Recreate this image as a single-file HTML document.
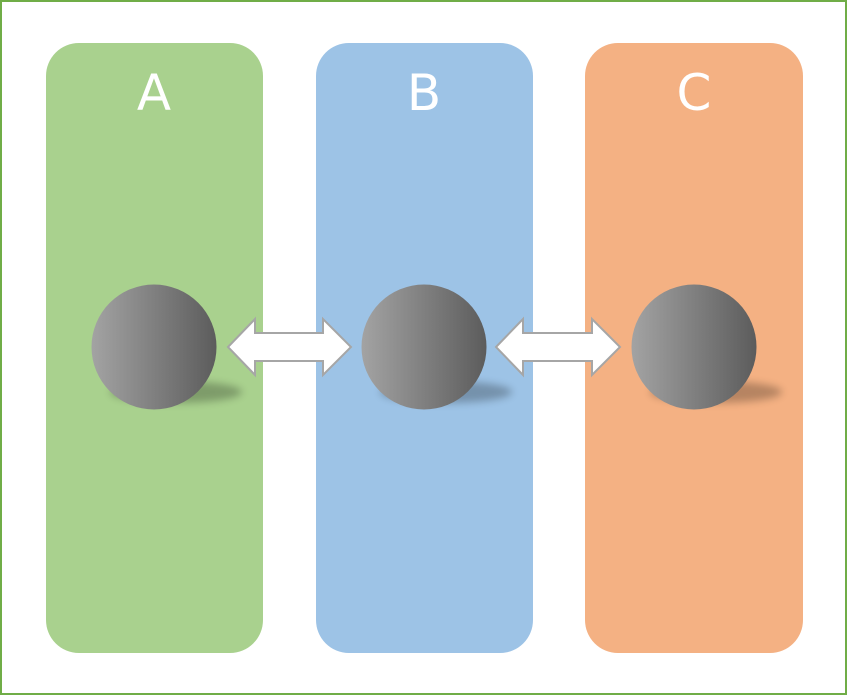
<!DOCTYPE html>
<html><head><style>
html,body{margin:0;padding:0;background:#fff;}
</style></head><body>
<svg width="847" height="695" viewBox="0 0 847 695" xmlns="http://www.w3.org/2000/svg">
<defs>
<linearGradient id="g" x1="0" x2="1" y1="0" y2="0">
<stop offset="0" stop-color="#a3a3a3"/><stop offset="1" stop-color="#5c5c5c"/>
</linearGradient>
<filter id="b" x="-50%" y="-100%" width="200%" height="300%"><feGaussianBlur stdDeviation="4"/></filter>
</defs>
<rect x="1" y="1" width="845" height="693" fill="#fff" stroke="#70ad47" stroke-width="2"/>
<rect x="46" y="43" width="217" height="610" rx="33" fill="#a9d18e"/>
<rect x="316" y="43" width="217" height="610" rx="33" fill="#9dc3e6"/>
<rect x="585" y="43" width="218" height="610" rx="33" fill="#f4b183"/>
<g font-family="DejaVu Sans, sans-serif" font-size="50" fill="#fff" text-anchor="middle">
<text x="154" y="110">A</text><text x="424" y="110">B</text><text x="694" y="110">C</text>
</g>
<g>
<ellipse cx="176" cy="392" rx="66" ry="11" fill="#000" opacity="0.25" filter="url(#b)"/>
<circle cx="154" cy="347" r="62.5" fill="url(#g)"/>
<ellipse cx="446" cy="392" rx="66" ry="11" fill="#000" opacity="0.25" filter="url(#b)"/>
<circle cx="424" cy="347" r="62.5" fill="url(#g)"/>
<ellipse cx="716" cy="392" rx="66" ry="11" fill="#000" opacity="0.25" filter="url(#b)"/>
<circle cx="694" cy="347" r="62.5" fill="url(#g)"/>
</g>
<g fill="#fff" stroke="#a6a6a6" stroke-width="2" stroke-linejoin="miter">
<polygon points="228,347 255,319 255,333 323,333 323,319 351,347 323,375 323,361 255,361 255,375"/>
<polygon points="496,347 523,319 523,333 592,333 592,319 620,347 592,375 592,361 523,361 523,375"/>
</g>
</svg>
</body></html>
